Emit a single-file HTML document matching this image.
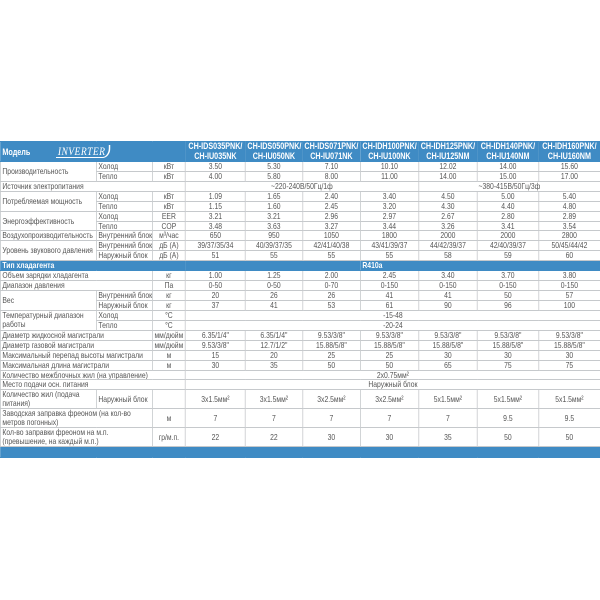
<!DOCTYPE html>
<html><head><meta charset="utf-8">
<style>
html,body{margin:0;padding:0;background:#fff;width:600px;height:600px;overflow:hidden}
table{position:absolute;left:0;top:141px;width:750px;border-collapse:collapse;table-layout:fixed;transform:scaleX(0.8);transform-origin:0 0;
 font-family:"Liberation Sans",sans-serif;font-size:8.5px;color:#555;line-height:1}
td{border:1px solid #c6c9cc;padding:0 2px;text-align:center;white-space:nowrap;overflow:hidden}
td.l{text-align:left}
tr.h td{background:#3f8bc4;color:#fff;font-weight:bold;border-color:#3f8bc4;line-height:1.05;font-size:9px}
tr.b td{background:#3f8bc4;color:#fff;font-weight:bold;border-color:#3f8bc4}
td.w{white-space:normal;line-height:1.05}
.inv{display:inline-block;margin-left:30px;font-family:"Liberation Serif",serif;font-style:italic;font-weight:normal;font-size:12px;letter-spacing:0.5px;border-bottom:1px solid #fff;border-right:2px solid #fff;border-radius:0 0 10px 0;padding:0 4px 0 2px}
</style></head><body>
<table>
<colgroup><col style="width:120px"><col style="width:70px"><col style="width:41.25px"><col style="width:75px"><col style="width:71.25px"><col style="width:72.5px"><col style="width:72.5px"><col style="width:73.75px"><col style="width:76.25px"><col style="width:77.5px"></colgroup>
<tr class="h" style="height:20px"><td colspan="3" class="l">Модель <span class="inv">INVERTER</span></td><td>CH-IDS035PNK/<br>CH-IU035NK</td><td>CH-IDS050PNK/<br>CH-IU050NK</td><td>CH-IDS071PNK/<br>CH-IU071NK</td><td>CH-IDH100PNK/<br>CH-IU100NK</td><td>CH-IDH125PNK/<br>CH-IU125NM</td><td>CH-IDH140PNK/<br>CH-IU140NM</td><td>CH-IDH160PNK/<br>CH-IU160NM</td></tr>
<tr style="height:10px"><td rowspan="2" class="l">Производительность</td><td class="l">Холод</td><td>кВт</td><td>3.50</td><td>5.30</td><td>7.10</td><td>10.10</td><td>12.02</td><td>14.00</td><td>15.60</td></tr>
<tr style="height:10px"><td class="l">Тепло</td><td>кВт</td><td>4.00</td><td>5.80</td><td>8.00</td><td>11.00</td><td>14.00</td><td>15.00</td><td>17.00</td></tr>
<tr style="height:10px"><td colspan="3" class="l">Источник электропитания</td><td colspan="4">~220-240В/50Гц/1ф</td><td colspan="3">~380-415В/50Гц/3ф</td></tr>
<tr style="height:10px"><td rowspan="2" class="l">Потребляемая мощность</td><td class="l">Холод</td><td>кВт</td><td>1.09</td><td>1.65</td><td>2.40</td><td>3.40</td><td>4.50</td><td>5.00</td><td>5.40</td></tr>
<tr style="height:9px"><td class="l">Тепло</td><td>кВт</td><td>1.15</td><td>1.60</td><td>2.45</td><td>3.20</td><td>4.30</td><td>4.40</td><td>4.80</td></tr>
<tr style="height:10px"><td rowspan="2" class="l">Энергоэффективность</td><td class="l">Холод</td><td>EER</td><td>3.21</td><td>3.21</td><td>2.96</td><td>2.97</td><td>2.67</td><td>2.80</td><td>2.89</td></tr>
<tr style="height:9px"><td class="l">Тепло</td><td>COP</td><td>3.48</td><td>3.63</td><td>3.27</td><td>3.44</td><td>3.26</td><td>3.41</td><td>3.54</td></tr>
<tr style="height:10px"><td class="l">Воздухопроизводительность</td><td class="l">Внутренний блок</td><td>м³/час</td><td>650</td><td>950</td><td>1050</td><td>1800</td><td>2000</td><td>2000</td><td>2800</td></tr>
<tr style="height:9px"><td rowspan="2" class="l">Уровень звукового давления</td><td class="l">Внутренний блок</td><td>дБ (А)</td><td>39/37/35/34</td><td>40/39/37/35</td><td>42/41/40/38</td><td>43/41/39/37</td><td>44/42/39/37</td><td>42/40/39/37</td><td>50/45/44/42</td></tr>
<tr style="height:10px"><td class="l">Наружный блок</td><td>дБ (А)</td><td>51</td><td>55</td><td>55</td><td>55</td><td>58</td><td>59</td><td>60</td></tr>
<tr class="b" style="height:10px"><td colspan="3" class="l">Тип хладагента</td><td colspan="3"></td><td colspan="4" class="l">R410a</td></tr>
<tr style="height:10px"><td colspan="2" class="l">Объем зарядки хладагента</td><td>кг</td><td>1.00</td><td>1.25</td><td>2.00</td><td>2.45</td><td>3.40</td><td>3.70</td><td>3.80</td></tr>
<tr style="height:10px"><td colspan="2" class="l">Диапазон давления</td><td>Па</td><td>0-50</td><td>0-50</td><td>0-70</td><td>0-150</td><td>0-150</td><td>0-150</td><td>0-150</td></tr>
<tr style="height:10px"><td rowspan="2" class="l">Вес</td><td class="l">Внутренний блок</td><td>кг</td><td>20</td><td>26</td><td>26</td><td>41</td><td>41</td><td>50</td><td>57</td></tr>
<tr style="height:10px"><td class="l">Наружный блок</td><td>кг</td><td>37</td><td>41</td><td>53</td><td>61</td><td>90</td><td>96</td><td>100</td></tr>
<tr style="height:10px"><td rowspan="2" class="l w">Температурный диапазон работы</td><td class="l">Холод</td><td>°C</td><td colspan="7">-15-48</td></tr>
<tr style="height:10px"><td class="l">Тепло</td><td>°C</td><td colspan="7">-20-24</td></tr>
<tr style="height:10px"><td colspan="2" class="l">Диаметр жидкосной магистрали</td><td>мм/дюйм</td><td>6.35/1/4"</td><td>6.35/1/4"</td><td>9.53/3/8"</td><td>9.53/3/8"</td><td>9.53/3/8"</td><td>9.53/3/8"</td><td>9.53/3/8"</td></tr>
<tr style="height:10px"><td colspan="2" class="l">Диаметр газовой магистрали</td><td>мм/дюйм</td><td>9.53/3/8"</td><td>12.7/1/2"</td><td>15.88/5/8"</td><td>15.88/5/8"</td><td>15.88/5/8"</td><td>15.88/5/8"</td><td>15.88/5/8"</td></tr>
<tr style="height:10px"><td colspan="2" class="l">Максимальный перепад высоты магистрали</td><td>м</td><td>15</td><td>20</td><td>25</td><td>25</td><td>30</td><td>30</td><td>30</td></tr>
<tr style="height:10px"><td colspan="2" class="l">Максимальная длина магистрали</td><td>м</td><td>30</td><td>35</td><td>50</td><td>50</td><td>65</td><td>75</td><td>75</td></tr>
<tr style="height:9px"><td colspan="3" class="l">Количество межблочных жил (на управление)</td><td colspan="7">2x0.75мм²</td></tr>
<tr style="height:10px"><td colspan="3" class="l">Место подачи осн. питания</td><td colspan="7">Наружный блок</td></tr>
<tr style="height:19px"><td class="l w">Количество жил (подача питания)</td><td class="l">Наружный блок</td><td></td><td>3x1.5мм²</td><td>3x1.5мм²</td><td>3x2.5мм²</td><td>3x2.5мм²</td><td>5x1.5мм²</td><td>5x1.5мм²</td><td>5x1.5мм²</td></tr>
<tr style="height:19px"><td colspan="2" class="l w">Заводская заправка фреоном (на кол-во метров погонных)</td><td>м</td><td>7</td><td>7</td><td>7</td><td>7</td><td>7</td><td>9.5</td><td>9.5</td></tr>
<tr style="height:19px"><td colspan="2" class="l w">Кол-во заправки фреоном на м.п. (превышение, на каждый м.п.)</td><td>гр/м.п.</td><td>22</td><td>22</td><td>30</td><td>30</td><td>35</td><td>50</td><td>50</td></tr>
<tr class="b" style="height:11px"><td colspan="10"></td></tr>
</table>
</body></html>
